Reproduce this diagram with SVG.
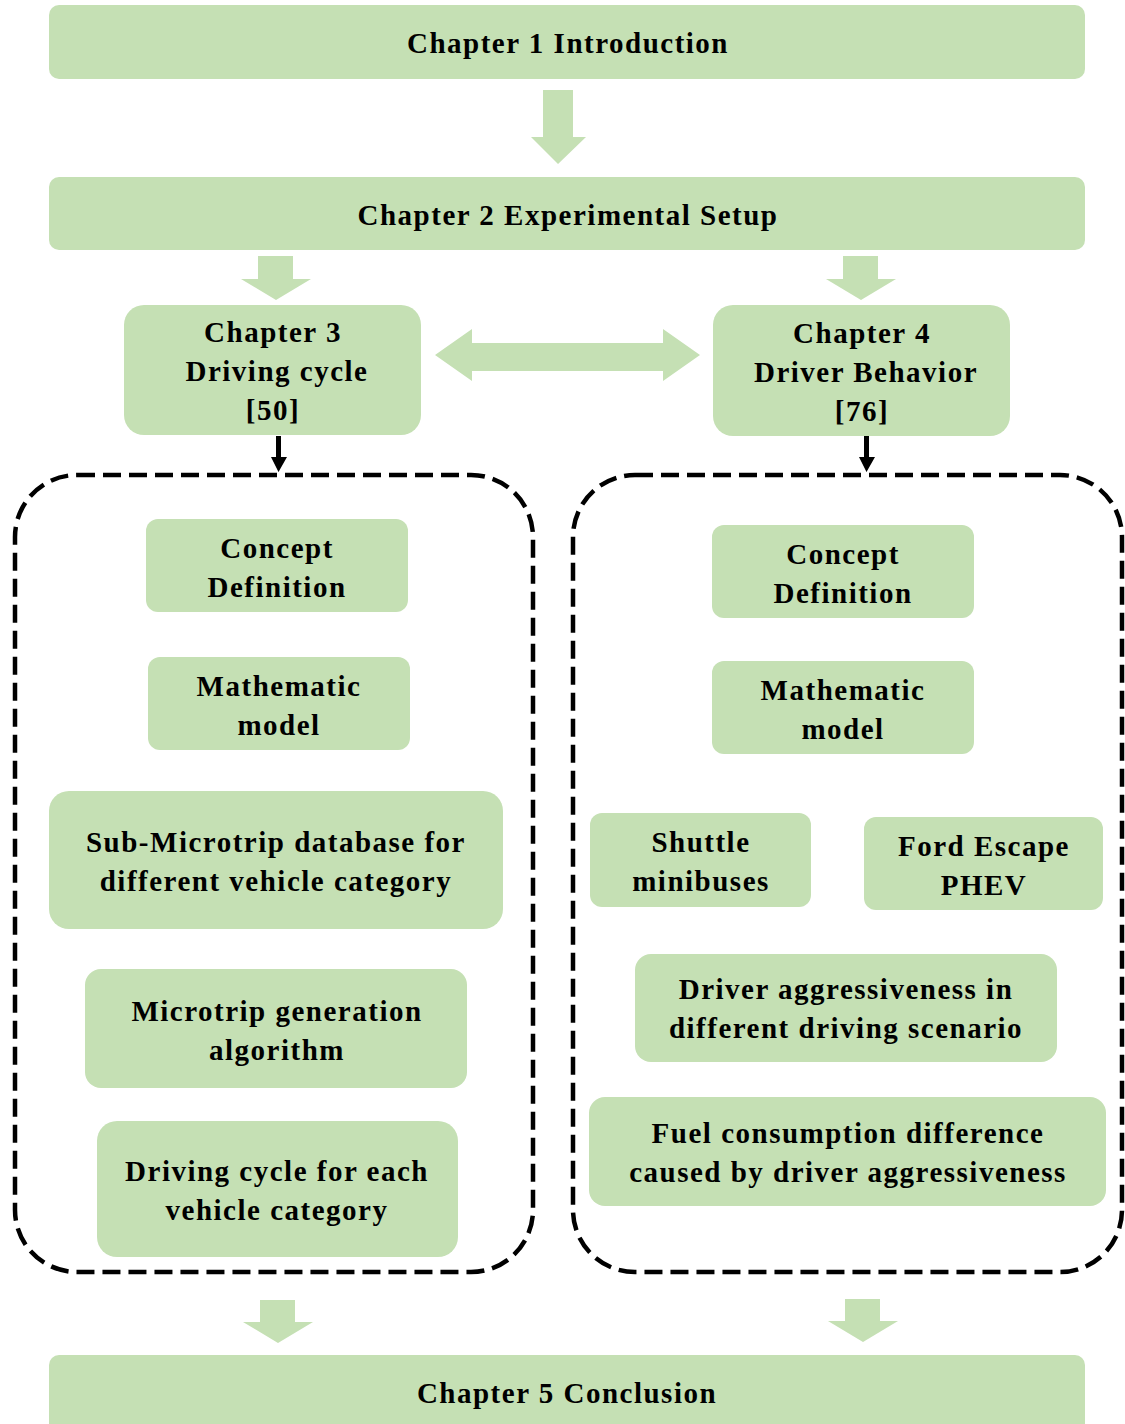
<svg xmlns="http://www.w3.org/2000/svg" width="1125" height="1424" viewBox="0 0 1125 1424">
<style>
.b{fill:#c5e0b4}
.t{font-family:"Liberation Serif","Times New Roman",serif;font-weight:bold;font-size:29px;letter-spacing:1.5px;fill:#000;text-anchor:middle}
.ga{fill:#c5e0b4}
.d{fill:none;stroke:#000;stroke-width:4.5;stroke-dasharray:18 8}
</style>
<rect width="1125" height="1424" fill="#fff"/>
<g id="ch1"><rect class="b" x="49" y="5" width="1036" height="74" rx="10"/><text class="t" x="568" y="53">Chapter 1 Introduction</text></g>
<g id="ch2"><rect class="b" x="49" y="177" width="1036" height="73" rx="10"/><text class="t" x="568" y="225">Chapter 2 Experimental Setup</text></g>
<g id="ch3"><rect class="b" x="124" y="305" width="297" height="130" rx="20"/><text class="t" x="273" y="342">Chapter 3</text><text class="t" x="277" y="381">Driving cycle</text><text class="t" x="273" y="420">[50]</text></g>
<g id="ch4"><rect class="b" x="713" y="305" width="297" height="131" rx="20"/><text class="t" x="862" y="343">Chapter 4</text><text class="t" x="866" y="382">Driver Behavior</text><text class="t" x="862" y="421">[76]</text></g>
<g id="l1"><rect class="b" x="146" y="519" width="262" height="93" rx="12"/><text class="t" x="277" y="558">Concept</text><text class="t" x="277" y="597">Definition</text></g>
<g id="l2"><rect class="b" x="148" y="657" width="262" height="93" rx="12"/><text class="t" x="279" y="696">Mathematic</text><text class="t" x="279" y="735">model</text></g>
<g id="l3"><rect class="b" x="49" y="791" width="454" height="138" rx="20"/><text class="t" x="276" y="852">Sub-Microtrip database for</text><text class="t" x="276" y="891">different vehicle category</text></g>
<g id="l4"><rect class="b" x="85" y="969" width="382" height="119" rx="16"/><text class="t" x="277" y="1021">Microtrip generation</text><text class="t" x="277" y="1060">algorithm</text></g>
<g id="l5"><rect class="b" x="97" y="1121" width="361" height="136" rx="20"/><text class="t" x="277" y="1181">Driving cycle for each</text><text class="t" x="277" y="1220">vehicle category</text></g>
<g id="r1"><rect class="b" x="712" y="525" width="262" height="93" rx="12"/><text class="t" x="843" y="564">Concept</text><text class="t" x="843" y="603">Definition</text></g>
<g id="r2"><rect class="b" x="712" y="661" width="262" height="93" rx="12"/><text class="t" x="843" y="700">Mathematic</text><text class="t" x="843" y="739">model</text></g>
<g id="r3"><rect class="b" x="590" y="813" width="221" height="94" rx="12"/><text class="t" x="701" y="852">Shuttle</text><text class="t" x="701" y="891">minibuses</text></g>
<g id="r4"><rect class="b" x="864" y="817" width="239" height="93" rx="12"/><text class="t" x="984" y="856">Ford Escape</text><text class="t" x="984" y="895">PHEV</text></g>
<g id="r5"><rect class="b" x="635" y="954" width="422" height="108" rx="16"/><text class="t" x="846" y="999">Driver aggressiveness in</text><text class="t" x="846" y="1038">different driving scenario</text></g>
<g id="r6"><rect class="b" x="589" y="1097" width="517" height="109" rx="16"/><text class="t" x="848" y="1143">Fuel consumption difference</text><text class="t" x="848" y="1182">caused by driver aggressiveness</text></g>
<g id="ch5"><rect class="b" x="49" y="1355" width="1036" height="80" rx="10"/><text class="t" x="567" y="1403">Chapter 5 Conclusion</text></g>
<g id="groups">
<rect class="d" x="15" y="475" width="518" height="797" rx="62"/>
<rect class="d" x="573" y="475" width="549" height="797" rx="62"/>
</g>
<g id="connectors">
<polygon class="ga" points="543,90 573,90 573,137 586,137 558,164 531,137 543,137"/>
<polygon class="ga" points="258,256 293,256 293,279 311,279 276,300 241,279 258,279"/>
<polygon class="ga" points="843,256 878,256 878,279 896,279 861,300 826,279 843,279"/>
<polygon class="ga" points="435,355 472,329 472,343 663,343 663,329 700,355 663,381 663,371 472,371 472,381"/>
<polygon fill="#000" points="276,436 281,436 281,457 287,457 278.5,472 271,457 276,457"/>
<polygon fill="#000" points="864,436 869,436 869,457 875,457 866.5,472 859,457 864,457"/>
<polygon class="ga" points="260,1300 295,1300 295,1322 313,1322 278,1343 243,1322 260,1322"/>
<polygon class="ga" points="845,1299 880,1299 880,1321 898,1321 863,1342 828,1321 845,1321"/>
</g>
</svg>
